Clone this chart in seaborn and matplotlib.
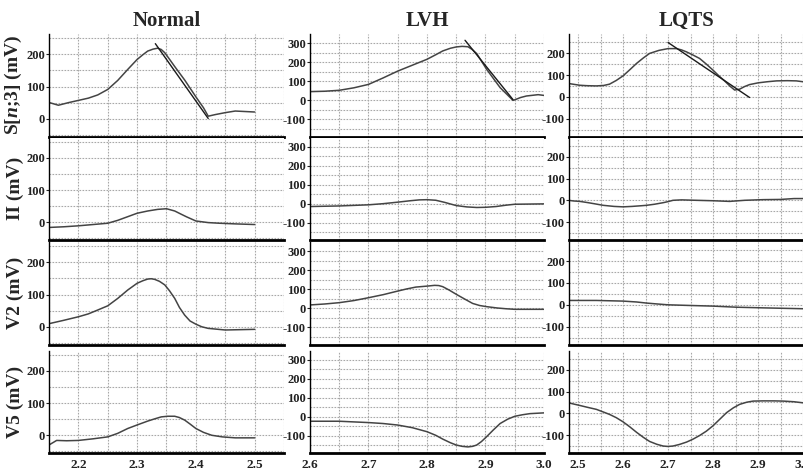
import numpy as np
import pandas as pd
import matplotlib
matplotlib.use("Agg")
import matplotlib.pyplot as plt
import seaborn as sns

sns.set_theme(style="white")
plt.rcParams['font.family'] = ['Liberation Serif', 'DejaVu Serif']
plt.rcParams['font.weight'] = 'bold'
plt.rcParams['mathtext.fontset'] = 'custom'
plt.rcParams['mathtext.it'] = 'Liberation Serif:italic:bold'
plt.rcParams['mathtext.rm'] = 'Liberation Serif:bold'

columns = ["Normal", "LVH", "LQTS"]
row_labels = ["S[$\\mathit{n}$;3] (mV)", "II (mV)", "V2 (mV)", "V5 (mV)"]

# ---- Normal ----
normal_s_t = [2.151, 2.166, 2.183, 2.2, 2.217, 2.233, 2.25, 2.267, 2.284, 2.3, 2.31, 2.318, 2.327, 2.335, 2.341, 2.347, 2.355, 2.364, 2.381, 2.4, 2.413, 2.421, 2.433, 2.45, 2.467, 2.5]
normal_s_v = [50, 42, 50, 57, 64, 74, 91, 119, 153, 184, 199, 210, 216, 219, 215, 205, 185, 162, 120, 68, 34, 8, 13, 19, 24, 21]
normal_ii_t = [2.151, 2.175, 2.2, 2.225, 2.25, 2.267, 2.285, 2.3, 2.318, 2.335, 2.35, 2.364, 2.375, 2.384, 2.4, 2.421, 2.44, 2.467, 2.5]
normal_ii_v = [-16, -14, -11, -7, -3, 6, 18, 28, 35, 40, 42, 35, 25, 17, 4, -1, -3, -5, -7]
normal_v2_t = [2.151, 2.175, 2.2, 2.217, 2.233, 2.25, 2.267, 2.284, 2.3, 2.31, 2.318, 2.324, 2.33, 2.338, 2.347, 2.355, 2.364, 2.372, 2.381, 2.39, 2.4, 2.41, 2.421, 2.45, 2.5]
normal_v2_v = [10, 20, 31, 40, 52, 65, 88, 114, 135, 143, 148, 149, 147, 141, 130, 112, 88, 60, 36, 18, 8, 0, -5, -10, -8]
normal_v5_t = [2.151, 2.163, 2.18, 2.2, 2.225, 2.25, 2.267, 2.284, 2.3, 2.318, 2.33, 2.341, 2.352, 2.364, 2.372, 2.381, 2.39, 2.4, 2.413, 2.427, 2.445, 2.467, 2.5]
normal_v5_v = [-29, -16, -17, -16, -11, -5, 6, 21, 32, 44, 51, 57, 59, 59, 55, 47, 35, 21, 9, 0, -5, -8, -8]
normal_fit_t = [2.331, 2.421]
normal_fit_v = [233, 1]

# ---- LVH ----
lvh_s_t = [2.6, 2.625, 2.65, 2.675, 2.7, 2.725, 2.75, 2.775, 2.8, 2.815, 2.827, 2.84, 2.85, 2.86, 2.87, 2.877, 2.885, 2.902, 2.925, 2.947, 2.95, 2.96, 2.97, 2.99, 3.0]
lvh_s_v = [46, 48, 53, 66, 84, 118, 154, 185, 216, 240, 260, 274, 281, 284, 282, 268, 246, 163, 67, 0, 3, 15, 23, 30, 26]
lvh_ii_t = [2.6, 2.65, 2.7, 2.725, 2.75, 2.77, 2.787, 2.8, 2.815, 2.83, 2.85, 2.868, 2.885, 2.9, 2.918, 2.935, 2.95, 3.0]
lvh_ii_v = [-14, -11, -5, 1, 9, 16, 21, 22, 19, 8, -9, -16, -19, -18, -14, -7, -2, 0]
lvh_v2_t = [2.6, 2.625, 2.65, 2.675, 2.7, 2.725, 2.75, 2.765, 2.781, 2.8, 2.813, 2.82, 2.827, 2.838, 2.85, 2.865, 2.878, 2.89, 2.902, 2.92, 2.935, 2.95, 3.0]
lvh_v2_v = [18, 23, 30, 41, 56, 72, 91, 102, 112, 117, 121, 120, 114, 96, 74, 48, 26, 15, 9, 2, -2, -5, -5]
lvh_v5_t = [2.6, 2.65, 2.7, 2.725, 2.75, 2.775, 2.8, 2.815, 2.827, 2.84, 2.85, 2.86, 2.87, 2.878, 2.885, 2.893, 2.902, 2.913, 2.925, 2.938, 2.95, 2.963, 2.976, 3.0]
lvh_v5_v = [-23, -23, -30, -35, -43, -57, -78, -97, -117, -136, -148, -155, -158, -155, -148, -130, -104, -70, -35, -12, 3, 11, 17, 21]
lvh_fit_t = [2.865, 2.947]
lvh_fit_v = [316, 4]

# ---- LQTS ----
lqts_s_t = [2.479, 2.504, 2.52, 2.541, 2.557, 2.57, 2.585, 2.6, 2.615, 2.63, 2.645, 2.659, 2.68, 2.7, 2.719, 2.73, 2.741, 2.755, 2.77, 2.785, 2.8, 2.813, 2.826, 2.838, 2.848, 2.859, 2.87, 2.881, 2.9, 2.92, 2.941, 2.965, 2.985, 3.0]
lqts_s_v = [61, 53, 51, 50, 52, 58, 75, 96, 124, 153, 178, 199, 213, 221, 221, 215, 206, 192, 176, 150, 122, 96, 72, 48, 31, 35, 47, 56, 64, 69, 73, 74, 73, 69]
lqts_ii_t = [2.479, 2.49, 2.504, 2.52, 2.537, 2.556, 2.58, 2.6, 2.62, 2.64, 2.652, 2.67, 2.689, 2.7, 2.711, 2.73, 2.763, 2.8, 2.837, 2.87, 2.911, 2.95, 2.98, 3.0]
lqts_ii_v = [0, -3, -5, -10, -16, -23, -28, -30, -28, -25, -23, -18, -11, -6, 0, 2, 0, -2, -5, 0, 3, 4, 8, 8]
lqts_v2_t = [2.479, 2.541, 2.6, 2.63, 2.652, 2.675, 2.7, 2.748, 2.8, 2.852, 2.911, 3.0]
lqts_v2_v = [20, 20, 17, 13, 8, 4, 0, -3, -6, -11, -14, -18]
lqts_v5_t = [2.479, 2.504, 2.52, 2.541, 2.555, 2.57, 2.585, 2.6, 2.615, 2.63, 2.645, 2.659, 2.675, 2.689, 2.7, 2.711, 2.725, 2.741, 2.755, 2.77, 2.785, 2.8, 2.815, 2.83, 2.845, 2.859, 2.875, 2.889, 2.911, 2.935, 2.956, 2.98, 3.0]
lqts_v5_v = [48, 36, 28, 18, 7, -5, -20, -39, -62, -87, -110, -129, -142, -150, -152, -150, -143, -132, -119, -102, -82, -57, -27, 3, 25, 41, 51, 56, 57, 57, 56, 53, 48]
lqts_fit_t = [2.7, 2.881]
lqts_fit_v = [249, -3]

series = {
    (0, 0): (normal_s_t, normal_s_v), (1, 0): (normal_ii_t, normal_ii_v),
    (2, 0): (normal_v2_t, normal_v2_v), (3, 0): (normal_v5_t, normal_v5_v),
    (0, 1): (lvh_s_t, lvh_s_v), (1, 1): (lvh_ii_t, lvh_ii_v),
    (2, 1): (lvh_v2_t, lvh_v2_v), (3, 1): (lvh_v5_t, lvh_v5_v),
    (0, 2): (lqts_s_t, lqts_s_v), (1, 2): (lqts_ii_t, lqts_ii_v),
    (2, 2): (lqts_v2_t, lqts_v2_v), (3, 2): (lqts_v5_t, lqts_v5_v),
}
fits = {0: (normal_fit_t, normal_fit_v), 1: (lvh_fit_t, lvh_fit_v), 2: (lqts_fit_t, lqts_fit_v)}

xlims = [(2.15, 2.55), (2.6, 3.0), (2.48, 3.002)]
xticks = [[2.2, 2.3, 2.4, 2.5], [2.6, 2.7, 2.8, 2.9, 3.0], [2.5, 2.6, 2.7, 2.8, 2.9, 3.0]]
xgrid = [np.arange(2.15, 2.551, 0.05), np.arange(2.6, 3.001, 0.05), np.arange(2.5, 3.001, 0.05)]
ylims = [(-55, 263), (-190, 349), (-182, 288)]
yticks = [[0, 100, 200], [-100, 0, 100, 200, 300], [-100, 0, 100, 200]]
ygrid = [np.arange(-50, 251, 50), np.arange(-150, 301, 50), np.arange(-150, 251, 50)]

W, H = 804, 471
fig = plt.figure(figsize=(W / 100, H / 100), dpi=100)
col_px = [(49, 284), (310, 544), (569, 804)]
row_top = [34, 137.5, 242, 350.5]
row_h = 102.5

line_color = "#444444"
grid_color = "#a8a8a8"
for r in range(4):
    for c in range(3):
        x0, x1 = col_px[c]
        top = row_top[r]
        ax = fig.add_axes([x0 / W, 1 - (top + row_h) / H, (x1 - x0) / W, row_h / H])
        t, v = series[(r, c)]
        df = pd.DataFrame({"t": t, "v": v})
        sns.lineplot(data=df, x="t", y="v", ax=ax, color=line_color, linewidth=1.1)
        if r == 0:
            ft, fv = fits[c]
            dff = pd.DataFrame({"t": ft, "v": fv})
            sns.lineplot(data=dff, x="t", y="v", ax=ax, color="#1a1a1a", linewidth=1.0)
        ax.set_xlim(*xlims[c])
        ax.set_ylim(*ylims[c])
        for gx in xgrid[c]:
            ax.axvline(gx, color=grid_color, lw=0.8, ls=(0, (1.5, 1.2)), zorder=0)
        for gy in ygrid[c]:
            ax.axhline(gy, color=grid_color, lw=0.8, ls=(0, (1.5, 1.2)), zorder=0)
        ax.set_yticks(yticks[c])
        ax.set_yticklabels([str(y) for y in yticks[c]], fontsize=9, fontweight='bold')
        ax.set_xticks(xticks[c])
        if r == 3:
            ax.set_xticklabels([f"{x:.1f}" for x in xticks[c]], fontsize=9.5, fontweight='bold')
        else:
            ax.set_xticklabels([])
        ax.tick_params(axis='y', length=2, width=0.8, pad=1, left=True, colors='#222222')
        ax.tick_params(axis='x', length=0, pad=4, colors='#222222')
        for s in ['top', 'right']:
            ax.spines[s].set_visible(False)
        ax.spines['left'].set_color('black')
        ax.spines['left'].set_linewidth(1.0)
        ax.spines['bottom'].set_color('black')
        ax.spines['bottom'].set_linewidth(2.0)
        ax.set_xlabel("")
        ax.set_ylabel("")
        if r == 0:
            ax.set_title(columns[c], fontsize=15, fontweight='bold', pad=6)
        if c == 0:
            ax.set_ylabel(row_labels[r], fontsize=14, fontweight='bold')
            ax.yaxis.set_label_coords(-0.108, 0.5)

fig.savefig("out.png", dpi=100, facecolor="white")
